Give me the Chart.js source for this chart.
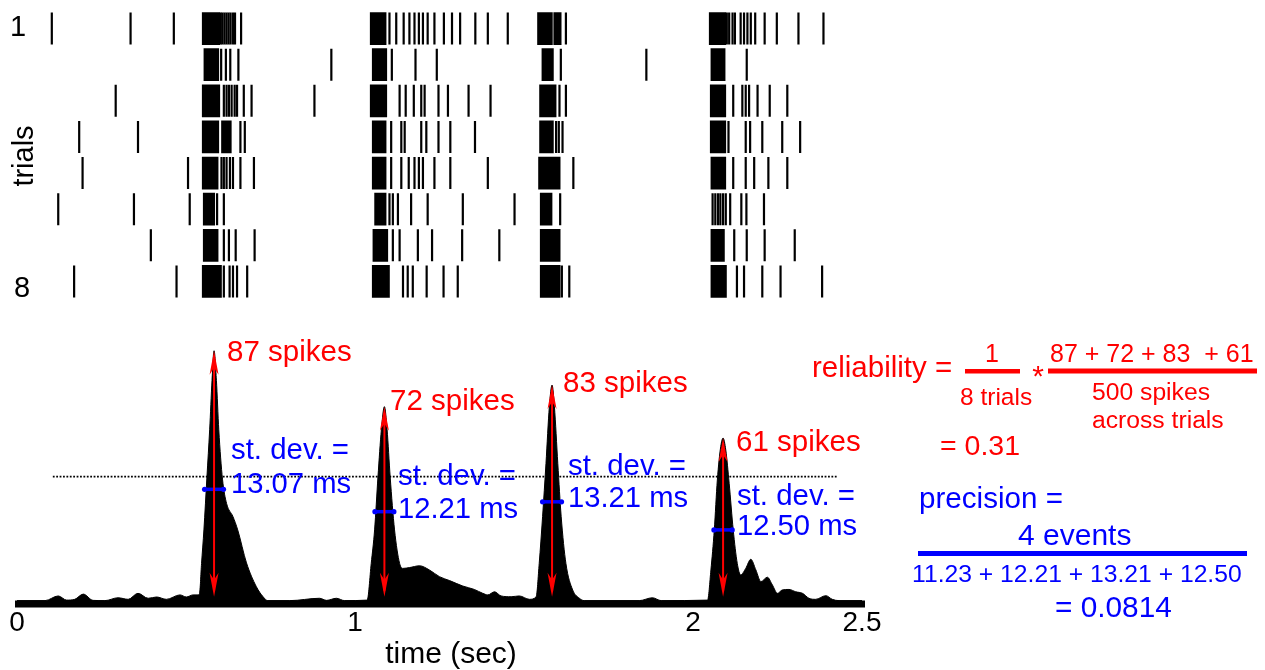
<!DOCTYPE html>
<html><head><meta charset="utf-8">
<script src="https://cdn.jsdelivr.net/npm/chart.js@4.4.0/dist/chart.umd.min.js"></script>
<style>
html,body{margin:0;padding:0;background:#fff;width:1265px;height:670px;overflow:hidden}
canvas{position:absolute;left:0;top:0}
</style></head><body>
<canvas id="raster" width="1265" height="670" style="width:1265px;height:670px"></canvas>
<canvas id="psth" width="1265" height="670" style="width:1265px;height:670px"></canvas>
<script>
// ---------------- DATA ----------------
// Raster: isolated spike times (s) and dense burst spans [start, end] (s) per trial
const trial1Spikes = [0.103,0.336,0.464,0.603,0.608,0.614,0.620,0.626,0.632,0.639,0.645,0.663,1.102,1.122,1.144,1.161,1.176,1.189,1.201,1.215,1.235,1.263,1.287,1.311,1.356,1.393,1.452,1.624,2.100,2.107,2.117,2.124,2.141,2.151,2.161,2.171,2.184,2.212,2.248,2.312,2.386];
const trial1Bursts = [[0.548,0.600],[1.045,1.092],[1.540,1.584],[1.588,1.610],[2.048,2.097]];
const trial2Spikes = [0.604,0.618,0.631,0.655,0.930,1.109,1.179,1.242,1.609,1.862,2.159];
const trial2Bursts = [[0.553,0.597],[1.051,1.094],[1.553,1.587],[2.053,2.095]];
const trial3Spikes = [0.292,0.612,0.620,0.627,0.635,0.644,0.651,0.671,0.694,0.880,1.132,1.150,1.174,1.196,1.206,1.247,1.275,1.336,1.401,1.605,1.624,2.119,2.146,2.156,2.166,2.191,2.227,2.279];
const trial3Bursts = [[0.548,0.600],[1.045,1.094],[1.546,1.595],[2.051,2.097]];
const trial4Spikes = [0.184,0.358,0.661,0.674,1.107,1.137,1.147,1.196,1.211,1.247,1.282,1.355,1.595,1.603,1.614,2.105,2.156,2.169,2.205,2.264,2.317];
const trial4Bursts = [[0.548,0.597],[0.605,0.634],[1.051,1.092],[1.546,1.587],[2.051,2.097]];
const trial5Spikes = [0.194,0.506,0.605,0.612,0.620,0.630,0.639,0.661,0.701,1.107,1.137,1.159,1.176,1.189,1.201,1.235,1.282,1.393,1.646,2.119,2.156,2.181,2.223,2.279];
const trial5Bursts = [[0.548,0.595],[1.051,1.092],[1.543,1.607],[2.053,2.097]];
const trial6Spikes = [0.122,0.346,0.511,0.592,0.612,1.102,1.112,1.127,1.166,1.215,1.319,1.472,1.607,2.058,2.066,2.074,2.081,2.089,2.097,2.110,2.143,2.158,2.210];
const trial6Bursts = [[0.551,0.585],[1.058,1.092],[1.548,1.583]];
const trial7Spikes = [0.396,0.612,0.627,0.647,0.703,1.112,1.132,1.186,1.228,1.317,1.427,2.122,2.159,2.212,2.301];
const trial7Bursts = [[0.551,0.595],[1.053,1.097],[1.548,1.607],[2.053,2.093]];
const trial8Spikes = [0.169,0.472,0.612,0.629,0.639,0.651,0.681,1.142,1.156,1.171,1.212,1.262,1.304,1.612,1.634,2.130,2.151,2.205,2.259,2.382];
const trial8Bursts = [[0.548,0.605],[1.051,1.102],[1.548,1.607],[2.053,2.099]];
const trialTickValues = [1, 8];
const trialTickLabels = ['1', '8'];

// PSTH (spike density, arbitrary units)
const psthTimes = [0,0.083,0.122,0.147,0.171,0.196,0.225,0.260,0.299,0.329,0.358,0.388,0.413,0.442,0.482,0.501,0.521,0.536,0.540,0.546,0.553,0.562,0.570,0.577,0.583,0.590,0.597,0.608,0.620,0.639,0.653,0.679,0.708,0.728,0.742,0.807,0.895,0.916,0.945,0.969,1.036,1.048,1.058,1.068,1.078,1.087,1.095,1.104,1.117,1.132,1.142,1.161,1.191,1.220,1.250,1.280,1.319,1.353,1.378,1.393,1.413,1.432,1.462,1.486,1.516,1.536,1.545,1.555,1.565,1.575,1.583,1.590,1.600,1.610,1.624,1.644,1.664,1.678,1.841,1.880,1.906,2.043,2.053,2.063,2.072,2.082,2.089,2.097,2.107,2.119,2.131,2.141,2.156,2.171,2.186,2.201,2.220,2.235,2.250,2.264,2.284,2.304,2.324,2.343,2.363,2.393,2.412,2.432,2.500];
const psthRates = [1.3,1.3,3.1,1.5,1.8,3.8,1.4,1.3,2.4,1.8,4.1,2.2,2.7,1.8,3.5,2.7,3.5,3.5,4.0,15.6,28.5,49,67,86,97.4,86,67,48,38.7,33.6,28.5,15.8,6.7,2.8,1.3,1.3,2.2,1.4,2.2,1.3,1.5,15.6,28.5,49,67,75.9,67,49,28.5,15.6,13.7,14.0,14.7,13.1,10.5,9.0,6.9,5.6,4.1,3.5,4.7,3.1,2.8,3.1,1.8,2.8,15.6,33.6,54,75.9,84.2,75.9,54,33.6,15.6,5.4,2.2,1.3,1.3,2.4,1.3,1.5,13.1,28.5,47.7,60.5,63.8,59.2,46.4,28.5,15.6,11.2,13.7,17.2,13.1,8.6,10.3,7.3,4.1,5.4,5.6,4.7,4.1,2.2,1.8,3.2,1.8,1.3,1.3];
const thresholdLevel = 49;
const thresholdSpan = [0.106, 2.429];

// Events
const eventTimes = [0.583, 1.087, 1.583, 2.089];
const eventPeaks = [97.4, 75.9, 84.2, 63.8];
const eventSpikeCounts = [87, 72, 83, 61];
const eventSDs = ['13.07', '12.21', '13.21', '12.50'];
const sdLevels = [44.1, 35.5, 39.3, 28.5];
const sdHalfWidths = [0.031, 0.031, 0.031, 0.030];
const arrowBase = 2.8;

// Axis
const timeTicks = [0, 1, 2, 2.5];
const timeTickLabels = ['0', '1', '2', '2.5'];
const timeAxisTitle = 'time (sec)';
const trialAxisTitle = 'trials';

// ---------------- LAYOUT / STYLE ----------------
const FONT = '"Liberation Sans", Arial, Helvetica, sans-serif';
const RED = '#ff0000', BLUE = '#0000ff';
const PLOT_L = 17, PLOT_R = 862;
const W = 1265, H = 670;

function txt(ctx, s, x, y, size, color, align) {
  ctx.save();
  ctx.font = size + 'px ' + FONT;
  ctx.fillStyle = color;
  ctx.textAlign = align || 'left';
  ctx.textBaseline = 'alphabetic';
  ctx.fillText(s, x, y);
  ctx.restore();
}

// ---------------- RASTER ----------------
const spikeLists = [trial1Spikes,trial2Spikes,trial3Spikes,trial4Spikes,trial5Spikes,trial6Spikes,trial7Spikes,trial8Spikes];
const burstLists = [trial1Bursts,trial2Bursts,trial3Bursts,trial4Bursts,trial5Bursts,trial6Bursts,trial7Bursts,trial8Bursts];
const burstData = [], spikeData = [];
burstLists.forEach((l, i) => l.forEach(b => burstData.push({x: [b[0], b[1]], y: i + 1})));
spikeLists.forEach((l, i) => l.forEach(t => spikeData.push({x: t, y: i + 1})));

const rasterLabels = {
  id: 'rasterLabels',
  afterDraw(chart) {
    const ctx = chart.ctx, y = chart.scales.y;
    const offs = [[10, 7], [14, 16]];
    trialTickValues.forEach((v, i) => {
      txt(ctx, trialTickLabels[i], offs[i][0], y.getPixelForValue(v) + offs[i][1], 29, '#000');
    });
    ctx.save();
    ctx.translate(33, 156);
    ctx.rotate(-Math.PI / 2);
    txt(ctx, trialAxisTitle, 0, 0, 29, '#000', 'center');
    ctx.restore();
  }
};

new Chart(document.getElementById('raster'), {
  type: 'bar',
  data: {
    datasets: [
      { type: 'bar', indexAxis: 'y', data: burstData, backgroundColor: '#000', borderWidth: 0,
        barThickness: 32, grouped: false, borderSkipped: false },
      { type: 'scatter', data: spikeData, pointStyle: 'line', pointRotation: 90, pointRadius: 16,
        pointHoverRadius: 16, pointBorderWidth: 2.2, pointBorderColor: '#000', pointBackgroundColor: '#000' }
    ]
  },
  options: {
    responsive: false, animation: false,
    layout: { autoPadding: false, padding: { left: PLOT_L, right: W - PLOT_R, top: 10.5, bottom: H - 299.5 } },
    plugins: { legend: { display: false }, tooltip: { enabled: false } },
    scales: {
      x: { type: 'linear', min: 0, max: 2.5, display: false, offset: false },
      y: { type: 'linear', min: 0.5, max: 8.5, reverse: true, display: false, offset: false }
    }
  },
  plugins: [rasterLabels]
});

// ---------------- PSTH ----------------
const psthData = psthTimes.map((t, i) => ({x: t, y: psthRates[i]}));
const thrData = thresholdSpan.map(t => ({x: t, y: thresholdLevel}));

function drawArrow(ctx, x, yTop, yBot) {
  const L = 24, Wd = 4.5;
  ctx.strokeStyle = RED; ctx.fillStyle = RED; ctx.lineWidth = 2;
  ctx.beginPath(); ctx.moveTo(x, yTop + 6); ctx.lineTo(x, yBot - 6); ctx.stroke();
  ctx.beginPath(); ctx.moveTo(x, yTop); ctx.lineTo(x - Wd, yTop + L); ctx.lineTo(x, yTop + L - 7); ctx.lineTo(x + Wd, yTop + L); ctx.closePath(); ctx.fill();
  ctx.beginPath(); ctx.moveTo(x, yBot); ctx.lineTo(x - Wd, yBot - L); ctx.lineTo(x, yBot - L + 7); ctx.lineTo(x + Wd, yBot - L); ctx.closePath(); ctx.fill();
}

const labelLayout = [
  {cx: 227, cy: 361, sx: 231, sy1: 459, sy2: 493},
  {cx: 390, cy: 410, sx: 398, sy1: 485, sy2: 518},
  {cx: 563, cy: 392, sx: 568, sy1: 475, sy2: 507},
  {cx: 736, cy: 451, sx: 737, sy1: 505, sy2: 535}
];

const psthDecor = {
  id: 'psthDecor',
  afterDatasetsDraw(chart) {
    const ctx = chart.ctx, x = chart.scales.x, y = chart.scales.y;
    ctx.save();
    const y0 = y.getPixelForValue(0);
    const xa = x.getPixelForValue(0) - 2, xb = x.getPixelForValue(2.5) + 3;
    ctx.fillStyle = '#000';
    ctx.fillRect(xa, y0 - 3.5, xb - xa, 7);
    eventTimes.forEach((t, i) => {
      const l = x.getPixelForValue(t - sdHalfWidths[i]), r = x.getPixelForValue(t + sdHalfWidths[i]);
      const py = y.getPixelForValue(sdLevels[i]);
      ctx.strokeStyle = BLUE; ctx.lineWidth = 3.5; ctx.lineCap = 'butt';
      ctx.beginPath(); ctx.moveTo(l, py); ctx.lineTo(r, py); ctx.stroke();
      ctx.fillStyle = BLUE;
      ctx.beginPath(); ctx.arc(l + 1, py, 2.6, 0, Math.PI * 2); ctx.fill();
      ctx.beginPath(); ctx.arc(r - 1, py, 2.6, 0, Math.PI * 2); ctx.fill();
    });
    eventTimes.forEach((t, i) => {
      drawArrow(ctx, x.getPixelForValue(t), y.getPixelForValue(eventPeaks[i]), y.getPixelForValue(arrowBase));
    });
    ctx.restore();
  },
  afterDraw(chart) {
    const ctx = chart.ctx, x = chart.scales.x;
    timeTicks.forEach((v, i) => txt(ctx, timeTickLabels[i], x.getPixelForValue(v), 631, 28, '#000', 'center'));
    txt(ctx, timeAxisTitle, 451, 663, 30, '#000', 'center');
    eventTimes.forEach((t, i) => {
      const L = labelLayout[i];
      txt(ctx, eventSpikeCounts[i] + ' spikes', L.cx, L.cy, 29.5, RED);
      txt(ctx, 'st. dev. =', L.sx, L.sy1, 29.4, BLUE);
      txt(ctx, eventSDs[i] + ' ms', L.sx, L.sy2, 29.2, BLUE);
    });
    ctx.save();
    txt(ctx, 'reliability =', 812, 377, 29.5, RED);
    txt(ctx, '1', 992, 362, 25, RED, 'center');
    ctx.fillStyle = RED;
    ctx.fillRect(965, 369, 55, 4.5);
    txt(ctx, '*', 1038, 386, 30, RED, 'center');
    txt(ctx, eventSpikeCounts.slice(0,3).join(' + ') + '  + ' + eventSpikeCounts[3], 1050, 362, 25, RED);
    ctx.fillRect(1048, 368.5, 209, 5);
    txt(ctx, '8 trials', 960, 405, 24.5, RED);
    txt(ctx, '500 spikes', 1092, 400, 24.7, RED);
    txt(ctx, 'across trials', 1092, 428, 24.7, RED);
    txt(ctx, '= 0.31', 940, 455, 28.5, RED);
    txt(ctx, 'precision =', 919, 508, 29.6, BLUE);
    txt(ctx, '4 events', 1018, 545, 30, BLUE);
    ctx.fillStyle = BLUE;
    ctx.fillRect(918, 551, 329, 5);
    txt(ctx, '11.23 + 12.21 + 13.21 + 12.50', 912, 582, 24.7, BLUE);
    txt(ctx, '= 0.0814', 1055, 617, 29.8, BLUE);
    ctx.restore();
  }
};

new Chart(document.getElementById('psth'), {
  type: 'line',
  data: {
    datasets: [
      { data: thrData, borderColor: '#000', borderWidth: 1.8, borderDash: [1.8, 1.6], pointRadius: 0, fill: false },
      { data: psthData, borderColor: '#000', backgroundColor: '#000', borderWidth: 1, pointRadius: 0,
        fill: 'origin', cubicInterpolationMode: 'monotone' }
    ]
  },
  options: {
    responsive: false, animation: false,
    layout: { autoPadding: false, padding: { left: PLOT_L, right: W - PLOT_R, top: 344, bottom: H - 604 } },
    plugins: { legend: { display: false }, tooltip: { enabled: false } },
    scales: {
      x: { type: 'linear', min: 0, max: 2.5, display: false },
      y: { type: 'linear', min: 0, max: 100, display: false }
    }
  },
  plugins: [psthDecor]
});
</script></body></html>
